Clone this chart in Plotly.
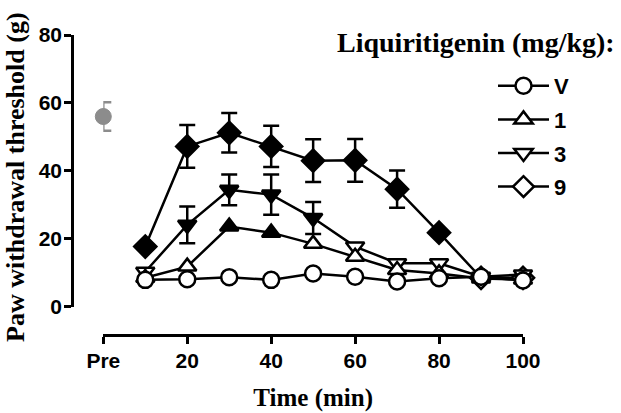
import numpy as np
import plotly.graph_objects as go

# ---------------- data ----------------
time_min = [10, 20, 30, 40, 50, 60, 70, 80, 90, 100]
tick_vals = [0, 20, 40, 60, 80, 100]
tick_text = ["Pre", "20", "40", "60", "80", "100"]

pre_x = [0]
pre_y = [56.0]
pre_err = [4.2]

veh = [7.9, 8.1, 8.7, 7.9, 9.8, 8.8, 7.4, 8.4, 8.8, 7.7]
lq1 = [8.5, 11.8, 23.6, 21.8, 18.5, 14.7, 10.8, 9.8, 8.3, 8.0]
lq3 = [10.3, 24.1, 34.4, 33.0, 26.1, 17.7, 12.8, 12.8, 8.8, 9.5]
lq9 = [17.7, 47.2, 51.2, 47.2, 43.0, 43.1, 34.6, 21.8, 8.5, 8.5]

nan = np.nan
veh_err = [nan] * 10
lq1_err = [nan] * 10
lq3_err = [nan, 5.4, 4.5, 5.9, 4.7, nan, nan, nan, nan, nan]
lq9_err = [nan, 6.3, 5.8, 6.1, 6.3, 6.3, 5.5, nan, nan, nan]

# significant points are drawn filled
veh_sig = [0, 0, 0, 0, 0, 0, 0, 0, 0, 0]
lq1_sig = [0, 0, 1, 1, 0, 0, 0, 0, 0, 0]
lq3_sig = [0, 1, 1, 1, 1, 0, 0, 0, 0, 0]
lq9_sig = [1, 1, 1, 1, 1, 1, 1, 1, 0, 0]

labels = ["V", "1", "3", "9"]
symbols = ["circle", "triangle-up", "triangle-down", "diamond"]
series = [veh, lq1, lq3, lq9]
errs = [veh_err, lq1_err, lq3_err, lq9_err]
sigs = [veh_sig, lq1_sig, lq3_sig, lq9_sig]

legend_title = "Liquiritigenin (mg/kg):"
x_title = "Time (min)"
y_title = "Paw withdrawal threshold (g)"

# ---------------- figure ----------------
W, H = 621, 413
ML, MR, MT, MB = 72, 98, 35, 78
pw, ph = W - ML - MR, H - MT - MB

LW = 2.5
sizes = {"circle": 16, "triangle-up": 16, "triangle-down": 16, "diamond": 17}

fig = go.Figure()

# draw order: 9, 3, 1, V
for idx in [3, 2, 1, 0]:
    sym = symbols[idx]
    fills = ["black" if s else "white" for s in sigs[idx]]
    fig.add_trace(go.Scatter(
        x=time_min, y=series[idx], mode="lines+markers",
        line=dict(color="black", width=LW),
        marker=dict(symbol=sym, size=sizes[sym], color=fills,
                    line=dict(color="black", width=LW)),
        error_y=dict(type="data", array=np.array(errs[idx], dtype=float),
                     color="black", thickness=LW, width=8, visible=True),
        cliponaxis=False, showlegend=False, hoverinfo="skip",
    ))

# Pre baseline
fig.add_trace(go.Scatter(
    x=pre_x, y=pre_y, mode="markers",
    marker=dict(symbol="circle", size=16, color="#8c8c8c",
                line=dict(color="#8c8c8c", width=1)),
    error_y=dict(type="data", array=pre_err, color="#8c8c8c",
                 thickness=LW, width=8),
    cliponaxis=False, showlegend=False, hoverinfo="skip",
))

# legend entries (open symbols)
for idx in range(4):
    sym = symbols[idx]
    fig.add_trace(go.Scatter(
        x=[None], y=[None], mode="lines+markers", name=labels[idx],
        legendgroup=labels[idx],
        line=dict(color="black", width=LW),
        marker=dict(symbol=sym, size=sizes[sym], color="white",
                    line=dict(color="black", width=LW)),
    ))

tickfont = dict(family="Liberation Sans", size=21, color="black", weight="bold")
titlefont = dict(family="Liberation Serif", color="black", weight="bold")

fig.update_layout(
    width=W, height=H,
    margin=dict(l=ML, r=MR, t=MT, b=MB, autoexpand=False),
    plot_bgcolor="white", paper_bgcolor="white",
    font=dict(family="Liberation Sans", color="black"),
    xaxis=dict(
        domain=[(103.3 - ML) / pw, 1], range=[0, 100],
        anchor="free", position=0, automargin=False,
        tickmode="array", tickvals=tick_vals, ticktext=tick_text,
        showline=True, linecolor="black", linewidth=LW,
        ticks="outside", ticklen=7, tickwidth=LW, tickcolor="black",
        showgrid=False, zeroline=False,
        tickfont=tickfont, ticklabelstandoff=-1,
        title=dict(text=x_title, font=dict(titlefont, size=25), standoff=17),
    ),
    yaxis=dict(
        domain=[(335 - 306.7) / ph, 1],
        range=[0, 80], dtick=20,
        anchor="free", position=0, automargin=False,
        showline=True, linecolor="black", linewidth=LW,
        ticks="outside", ticklen=7, tickwidth=LW, tickcolor="black",
        showgrid=False, zeroline=False,
        tickfont=tickfont, ticklabelstandoff=-2,
    ),
    legend=dict(
        x=(493 - ML) / pw, xanchor="left",
        y=(335 - 65) / ph, yanchor="top",
        font=dict(family="Liberation Sans", size=22, color="black", weight="bold"),
        itemwidth=51, tracegroupgap=2, traceorder="grouped",
        bgcolor="rgba(0,0,0,0)",
    ),
    annotations=[
        dict(text=legend_title, xref="paper", yref="paper",
             x=(617 - ML) / pw, xanchor="right", y=(335 - 43) / ph, yanchor="middle",
             showarrow=False,
             font=dict(family="Liberation Serif", size=28, color="black", weight="bold")),
        dict(text=y_title, xref="paper", yref="paper", textangle=-90,
             x=(15 - ML) / pw, xanchor="center", y=(335 - 177) / ph, yanchor="middle",
             showarrow=False, font=dict(titlefont, size=26)),
    ],
)

fig.write_html("out.html", config={"displayModeBar": False},
               post_script="document.body.style.margin='0';document.body.style.padding='0';")
